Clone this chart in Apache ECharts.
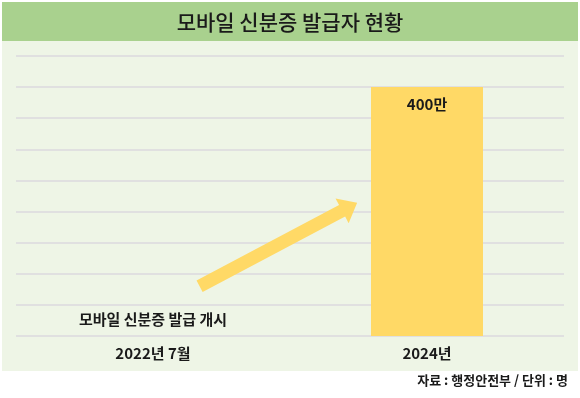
<!DOCTYPE html>
<html>
<head>
<meta charset="utf-8">
<script src="https://cdn.jsdelivr.net/npm/echarts@6/dist/echarts.min.js"></script>
<style>
  html, body { margin: 0; padding: 0; background: #fff; }
  #chart { width: 580px; height: 398px; }
</style>
</head>
<body>
<div id="chart"></div>
<script>
// 데이터
var categories = ['2022년 7월', '2024년'];
var values = [0, 400];              // 단위: 만 명
var valueLabels = ['모바일 신분증 발급 개시', '400만'];
var axisMax = 450;
var axisStep = 50;
// 화살표: [카테고리 위치(0~1), 값]
var arrowFrom = [0.17, 80];
var arrowTo = [0.745, 214];

var FONT = '"Noto Sans CJK KR", "Noto Sans", sans-serif';

var chart = echarts.init(document.getElementById('chart'));

function toPixel(p) {
    var a = chart.convertToPixel({ gridIndex: 0 }, [0, p[1]]);
    var b = chart.convertToPixel({ gridIndex: 0 }, [1, p[1]]);
    return [a[0] + p[0] * (b[0] - a[0]), a[1]];
}

function arrowPoints() {
    var s = toPixel(arrowFrom), t = toPixel(arrowTo);
    var dx = t[0] - s[0], dy = t[1] - s[1];
    var len = Math.sqrt(dx * dx + dy * dy);
    var ux = dx / len, uy = dy / len;   // 진행 방향
    var nx = -uy, ny = ux;              // 수직 방향
    var shaft = 6.5, head = 14, headLen = 17;
    var bx = t[0] - ux * headLen, by = t[1] - uy * headLen;
    return [
        [s[0] + nx * shaft, s[1] + ny * shaft],
        [bx + nx * shaft, by + ny * shaft],
        [bx + nx * head, by + ny * head],
        [t[0], t[1]],
        [bx - nx * head, by - ny * head],
        [bx - nx * shaft, by - ny * shaft],
        [s[0] - nx * shaft, s[1] - ny * shaft]
    ];
}

chart.setOption({
    animation: false,
    title: {
        text: '모바일 신분증 발급자 현황',
        left: 'center',
        top: 7,
        textStyle: { fontFamily: FONT, fontSize: 21, fontWeight: 500, color: '#1a1a1a' }
    },
    grid: { left: 16, right: 16, top: 56, bottom: 62 },
    xAxis: {
        type: 'category',
        data: categories,
        axisLine: { show: false },
        axisTick: { show: false },
        axisLabel: { margin: 10, fontFamily: FONT, fontSize: 15, fontWeight: 'bold', color: '#1a1a1a' }
    },
    yAxis: {
        type: 'value',
        min: 0,
        max: axisMax,
        interval: axisStep,
        axisLabel: { show: false },
        axisLine: { show: false },
        axisTick: { show: false },
        splitLine: { lineStyle: { color: '#e0e0e0', width: 2 } }
    },
    series: [{
        type: 'bar',
        barWidth: 112,
        z: 3,
        itemStyle: { color: '#ffd966' },
        label: {
            show: true,
            fontFamily: FONT,
            fontSize: 15,
            fontWeight: 'bold',
            color: '#1a1a1a',
            formatter: function (p) { return valueLabels[p.dataIndex]; }
        },
        data: values.map(function (v, i) {
            return {
                value: v,
                label: i === 0 ? { position: 'top', distance: 9 } : { position: 'insideTop', distance: 10 }
            };
        })
    }]
});

function drawGraphics() {
    chart.setOption({
        graphic: [
            { type: 'rect', z: -10, silent: true, shape: { x: 2, y: 2, width: 576, height: 39 }, style: { fill: '#a9d18e' } },
            { type: 'rect', z: -10, silent: true, shape: { x: 2, y: 41, width: 576, height: 330 }, style: { fill: '#eef5e6' } },
            { type: 'polygon', z: 10, silent: true, shape: { points: arrowPoints() }, style: { fill: '#ffd966' } },
            {
                type: 'text', right: 12, top: 374, z: 10,
                style: { text: '자료 : 행정안전부 / 단위 : 명', font: 'bold 13px ' + FONT, fill: '#1a1a1a' }
            }
        ]
    });
}
drawGraphics();

window.onresize = function () {
    chart.resize();
    drawGraphics();
};
</script>
</body>
</html>
